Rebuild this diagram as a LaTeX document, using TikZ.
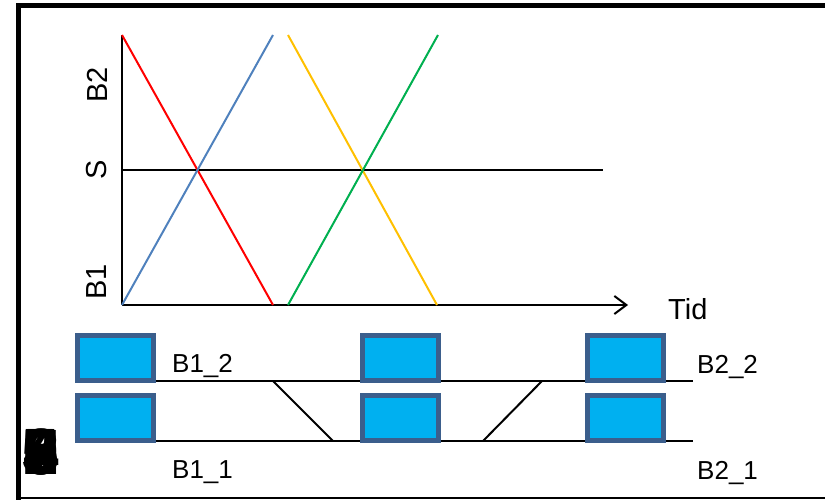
\documentclass[tikz,border=0pt]{standalone}
\usepackage{fontspec}
\setmainfont{Liberation Sans}
\usetikzlibrary{arrows.meta}
\definecolor{lnred}{HTML}{FF0000}
\definecolor{lnblue}{HTML}{4F81BD}
\definecolor{lnyellow}{HTML}{FFC000}
\definecolor{lngreen}{HTML}{00B050}
\definecolor{boxfill}{HTML}{00B0F0}
\definecolor{boxedge}{HTML}{3B5E8C}
\begin{document}
\begin{tikzpicture}[x=1pt,y=-1pt,
  axisline/.style={line width=2pt, black},
  path/.style={line width=2pt},
  trk/.style={line width=2pt, black},
  block/.style={draw=boxedge, fill=boxfill, line width=5pt,
    minimum width=76pt, minimum height=45pt, inner sep=0pt},
  lbl/.style={font=\fontsize{26}{30}\selectfont, inner sep=0pt},
  axlbl/.style={font=\fontsize{29}{33}\selectfont, inner sep=0pt},
  blob/.style={font=\fontsize{64}{70}\selectfont\bfseries, inner sep=0pt},
]
\useasboundingbox (0,0) rectangle (825,500);

% frame
\draw[line width=5pt, line join=miter] (18.5,500) -- (18.5,5.5) -- (825,5.5);
\draw[line width=2pt] (16,498) -- (825,498);

% overprinted slide numbers
\foreach \d/\n/\dx in {0/a/0,2/b/0,3/c/0,4/d/0,5/e/0,6/f/0,7/g/0,8/h/0,9/i/0,3/j/1.5,5/k/-1.5}
  \node[blob] (num\n) at (41+\dx,452) {\d};

% time diagram axes
\coordinate (O) at (122,305);
\coordinate (ytop) at (122,35);
\coordinate (xend) at (628,305);
\coordinate (sL) at (122,170);
\coordinate (sR) at (603,170);
\draw[axisline] (ytop) -- (O);
\draw[axisline, -{Straight Barb[length=12pt, width=18pt, line width=2pt]}] (O) -- (xend);
\draw[axisline] (sL) -- (sR);

\node[axlbl, rotate=90] (lB2) at (97,85) {B2};
\node[axlbl, rotate=90] (lS) at (97,170) {S};
\node[axlbl, rotate=90] (lB1) at (97,282) {B1};
\node[axlbl, anchor=base west] (ltid) at (668,319) {Tid};

% train paths
\coordinate (r0) at (122,35);   \coordinate (r1) at (273,305);
\coordinate (b0) at (122,305);  \coordinate (b1) at (273,35);
\coordinate (y0) at (288,35);   \coordinate (y1) at (437,305);
\coordinate (g0) at (288,305);  \coordinate (g1) at (438,35);
\draw[path, lnred] (r0) -- (r1);
\draw[path, lnblue] (b0) -- (b1);
\draw[path, lnyellow] (y0) -- (y1);
\draw[path, lngreen] (g0) -- (g1);

% track layout
\coordinate (uA) at (156,381); \coordinate (uB) at (693,381);
\coordinate (lA) at (156,441); \coordinate (lB) at (693,441);
\coordinate (x1a) at (273,381); \coordinate (x1b) at (333,441);
\coordinate (x2a) at (483,441); \coordinate (x2b) at (542,381);
\draw[trk] (uA) -- (uB);
\draw[trk] (lA) -- (lB);
\draw[trk] (x1a) -- (x1b);
\draw[trk] (x2a) -- (x2b);

\node[block] (blk1u) at (115.5,358) {};
\node[block] (blk1l) at (115.5,418) {};
\node[block] (blk2u) at (400.5,358) {};
\node[block] (blk2l) at (400.5,418) {};
\node[block] (blk3u) at (625.5,358) {};
\node[block] (blk3l) at (625.5,418) {};

\node[lbl, anchor=base west] (t12) at (172,372) {B1\_2};
\node[lbl, anchor=base west] (t11) at (172,478) {B1\_1};
\node[lbl, anchor=base west] (t22) at (697,373) {B2\_2};
\node[lbl, anchor=base west] (t21) at (697,479) {B2\_1};
\end{tikzpicture}
\end{document}
